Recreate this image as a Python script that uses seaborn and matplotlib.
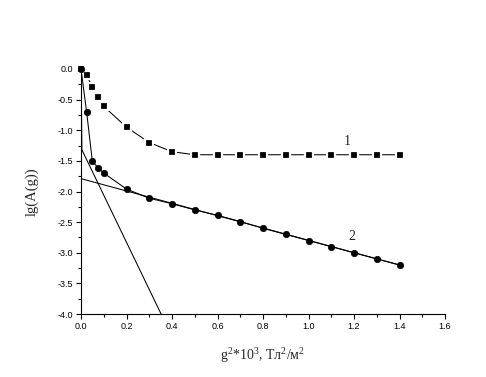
import matplotlib
matplotlib.use("Agg")
import matplotlib.pyplot as plt
import seaborn as sns
from matplotlib.ticker import MultipleLocator, FormatStrFormatter

# curve 1 (squares)
x1 = [0.0, 0.025, 0.05, 0.075, 0.1, 0.2, 0.3, 0.4, 0.5, 0.6, 0.7, 0.8, 0.9, 1.0, 1.1, 1.2, 1.3, 1.4]
y1 = [0.0, -0.10, -0.30, -0.45, -0.61, -0.95, -1.20, -1.35, -1.40, -1.40, -1.40, -1.40, -1.40, -1.40, -1.40, -1.40, -1.40, -1.40]

# curve 2 (circles)
x2 = [0.0, 0.025, 0.05, 0.075, 0.1, 0.2, 0.3, 0.4, 0.5, 0.6, 0.7, 0.8, 0.9, 1.0, 1.1, 1.2, 1.3, 1.4]
y2 = [0.0, -0.71, -1.51, -1.61, -1.70, -1.96, -2.11, -2.20, -2.30, -2.39, -2.49, -2.60, -2.70, -2.80, -2.90, -3.00, -3.10, -3.20]

# straight-line fits
slow_x = [0.0, 1.4]
slow_y = [-1.79, -3.20]
fast_x = [0.0, 0.004, 0.352]
fast_y = [0.0, -1.32, -4.0]

sns.set_style("ticks")
plt.rcParams["mathtext.fontset"] = "custom"
plt.rcParams["mathtext.rm"] = "Liberation Serif"
plt.rcParams["mathtext.it"] = "Liberation Serif:italic"

fig = plt.figure(figsize=(4.86, 3.77), dpi=100)
ax = fig.add_axes([81 / 486, 63 / 377, 364 / 486, 245 / 377])

sns.lineplot(x=slow_x, y=slow_y, color="black", lw=0.75, ax=ax, sort=False)
sns.lineplot(x=fast_x, y=fast_y, color="black", lw=0.75, ax=ax, sort=False)
sns.lineplot(x=x1, y=y1, color="black", lw=0.75, marker="s", markersize=5.5,
             markeredgecolor="white", markeredgewidth=1.6, ax=ax, sort=False, clip_on=False)
sns.lineplot(x=x2, y=y2, color="black", lw=0.75, marker="o", markersize=4.6,
             markeredgecolor="black", markeredgewidth=0.5, ax=ax, sort=False, clip_on=False)

ax.text(1.17, -1.18, "1", family="Liberation Serif", fontsize=10, ha="center", va="center")
ax.text(1.19, -2.74, "2", family="Liberation Serif", fontsize=10, ha="center", va="center")

ax.set_xlim(0, 1.6)
ax.set_ylim(-4.0, 0.0)
ax.xaxis.set_major_locator(MultipleLocator(0.2))
ax.xaxis.set_minor_locator(MultipleLocator(0.1))
ax.yaxis.set_major_locator(MultipleLocator(0.5))
ax.yaxis.set_minor_locator(MultipleLocator(0.25))
ax.xaxis.set_major_formatter(FormatStrFormatter("%.1f"))
ax.yaxis.set_major_formatter(FormatStrFormatter("%.1f"))
ax.tick_params(which="major", direction="out", length=3.6, width=0.8, labelsize=6.5, pad=2,
               color="black", labelcolor="black")
ax.tick_params(which="minor", direction="out", length=2.2, width=0.8, color="black")
for lbl in ax.get_xticklabels() + ax.get_yticklabels():
    lbl.set_family("Liberation Sans")

sns.despine(ax=ax)
for s in ["left", "bottom"]:
    ax.spines[s].set_color("black")
    ax.spines[s].set_linewidth(0.8)

ax.set_xlabel(r"g$^2$*10$^3$, Тл$^2$/м$^2$", family="Liberation Serif", fontsize=10, labelpad=11)
ax.set_ylabel("lg(A(g))", family="Liberation Serif", fontsize=10.5, labelpad=14)

fig.savefig("out.png", dpi=100)
